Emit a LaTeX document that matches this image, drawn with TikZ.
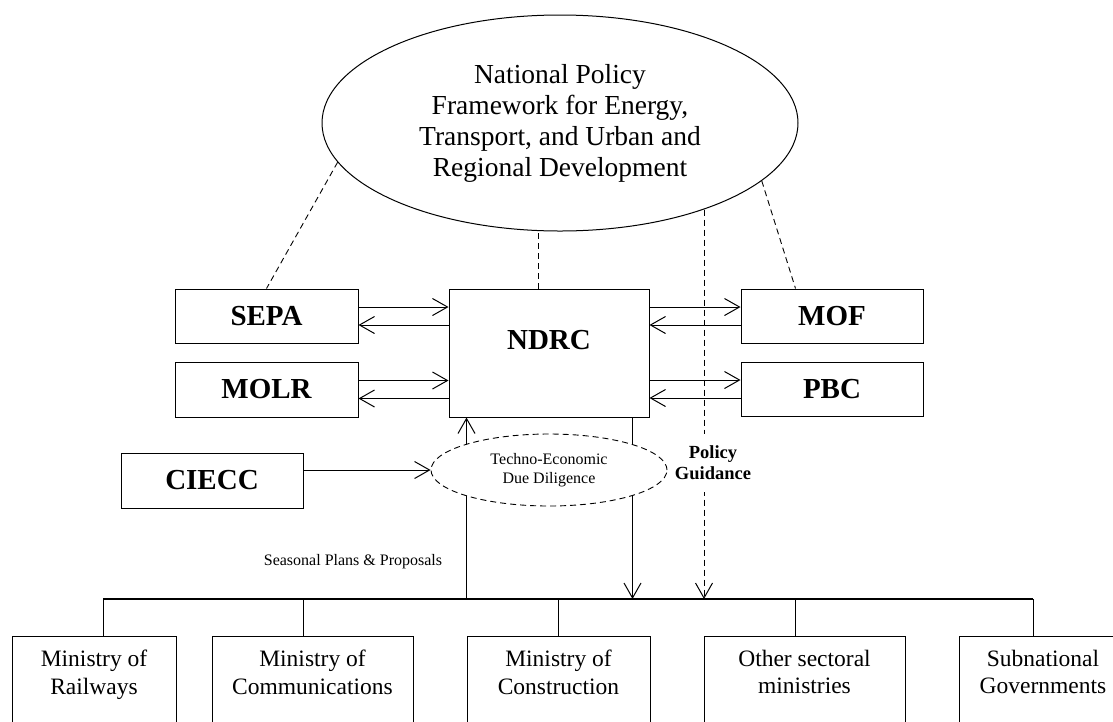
\documentclass[tikz,border=0pt]{standalone}
\usepackage{fontspec}
\setmainfont{Liberation Serif}
\usetikzlibrary{arrows.meta,shapes.geometric}
\tikzset{
orgbox/.style={draw, line width=1pt, minimum width=182pt, minimum height=54pt, inner sep=0pt,
font=\fontsize{29}{33}\selectfont\bfseries},
minbox/.style={draw, line width=1pt, anchor=north, align=center, inner xsep=0pt, inner ysep=13.5pt,
text depth=70pt, font=\fontsize{23.5}{27.5}\selectfont},
flow/.style={-{Straight Barb[length=15pt,width=17pt]}, line width=1pt},
link/.style={dash pattern=on 6pt off 4pt, line width=0.9pt}
}

\begin{document}
\begin{tikzpicture}[x=1pt,y=-1pt]
\path[use as bounding box,fill=white](0,0) rectangle (1113,721);
\clip (0,0) rectangle (1113,721);
\node[ellipse,draw,line width=1pt,minimum width=476pt,minimum height=216pt,align=center,
font=\fontsize{27.5}{31}\selectfont](npf) at (560,123)
{National Policy\\Framework for Energy,\\Transport, and Urban and\\Regional Development};
\node[orgbox,minimum width=183pt](sepa) at (266.5,316){SEPA};
\node[orgbox,minimum width=183pt,minimum height=55pt](molr) at (266.5,389.5){MOLR};
\node[orgbox](mof) at (832,316){MOF};
\node[orgbox](pbc) at (832,389){PBC};
\node[orgbox,minimum height=55pt](ciecc) at (212,480.5){CIECC};
\node[orgbox,minimum width=200pt,minimum height=128pt,text depth=27pt](ndrc) at (549,353){NDRC};
\node[minbox,minimum width=164pt](rail) at (94,636){Ministry of\\Railways};
\node[minbox,minimum width=201pt](comm) at (312.5,636){Ministry of\\Communications};
\node[minbox,minimum width=183pt](cons) at (558.5,636){Ministry of\\Construction};
\node[minbox,minimum width=201pt](other) at (804.5,636){Other sectoral\\ministries};
\node[minbox,minimum width=168pt](subn) at (1043,636){Subnational\\Governments};
% links to the framework
\draw[link](npf.190)--(sepa.north);
\draw[link](npf.-16)--([xshift=55pt]mof.north west);
\draw[link]([xshift=-11pt]ndrc.north)--([xshift=-11pt]ndrc.north |- npf.south);
% exchanges with NDRC
\foreach \s in {sepa,molr}{
\draw[flow]([yshift=9pt]\s.east)--([yshift=9pt]\s.east -| ndrc.west);
\draw[flow]([yshift=-9pt]\s.east -| ndrc.west)--([yshift=-9pt]\s.east);
}
\foreach \s in {mof,pbc}{
\draw[flow]([yshift=9pt]\s.west -| ndrc.east)--([yshift=9pt]\s.west);
\draw[flow]([yshift=-9pt]\s.west)--([yshift=-9pt]\s.west -| ndrc.east);
}
% ministries
\coordinate (busl) at (103,599);
\coordinate (busr) at (1033,599);
\coordinate (pgb) at (704,599);
\draw[line width=1.6pt](busl)--(busr);
\foreach \n/\d in {rail/9,comm/-9.5,cons/0,other/-9.5,subn/-10}
\draw[line width=1pt]([xshift=\d pt]\n.north)--([xshift=\d pt]\n.north |- busl);
\draw[flow]([xshift=18pt]ndrc.south west |- busl)--([xshift=18pt]ndrc.south west);
\draw[flow]([xshift=-17pt]ndrc.south east)--([xshift=-17pt]ndrc.south east |- busl);
\draw[link,flow](pgb |- npf.-31)--(pgb);
\node[ellipse,draw,fill=white,link,minimum width=236pt,minimum height=72pt,inner sep=0pt,align=center,
font=\fontsize{16}{19}\selectfont](tedd) at (549,470){Techno-Economic\\Due Diligence};
\draw[flow](ciecc.east |- tedd.west)--(tedd.west);
\node[fill=white,align=center,inner xsep=4pt,inner ysep=12pt,
font=\fontsize{18.5}{21}\selectfont\bfseries](pg) at (713,463){Policy\\Guidance};
\node[font=\fontsize{16}{19}\selectfont](spp) at (353,562){Seasonal Plans \& Proposals};
\end{tikzpicture}
\end{document}
